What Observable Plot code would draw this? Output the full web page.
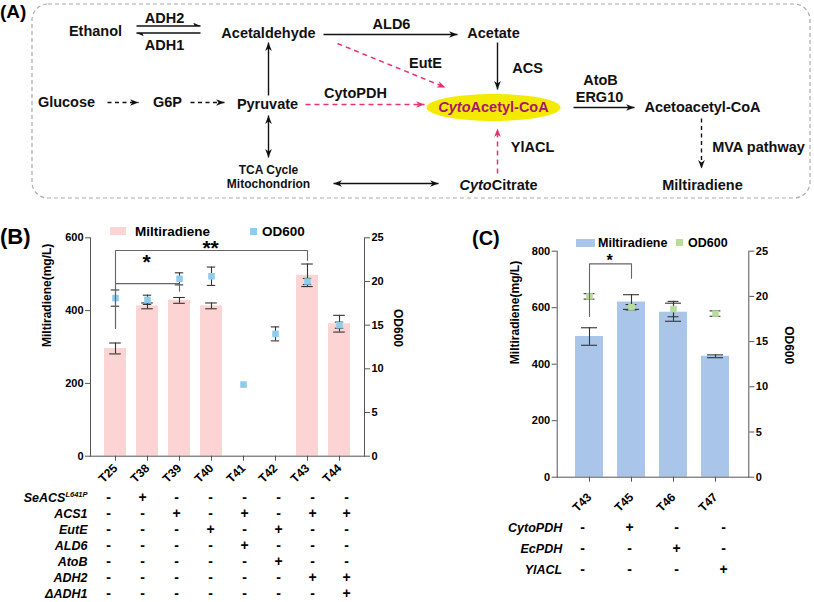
<!DOCTYPE html>
<html><head><meta charset="utf-8">
<script src="https://cdn.jsdelivr.net/npm/d3@7"></script>
<script src="https://cdn.jsdelivr.net/npm/@observablehq/plot@0.6"></script>
<style>
body{margin:0;background:#fff;}
#root{position:relative;width:814px;height:602px;overflow:hidden;font-family:"Liberation Sans",Arial,Helvetica,sans-serif;font-weight:bold;color:#000;}
.lbl{position:absolute;white-space:nowrap;line-height:1;}
.sw{position:absolute;}
</style></head><body><div id="root"></div>
<script>
// ---------------- DATA ----------------
// Panel B
const strainsB = ["T25","T38","T39","T40","T41","T42","T43","T44"];
const miltiB    = [296, 413, 428, 413, 0, 0, 497, 364];
const miltiErrB = [15, 8, 8, 8, 0, 0, 31, 23];
const odB       = [18.1, 17.9, 20.3, 20.6, 8.2, 14.0, 20.0, 15.0];
const odErrB    = [0.93, 0.53, 0.69, 1.05, 0, 0.8, 0.35, 0.35];
const rowsB  = ["SeACS^L641P","ACS1","EutE","ALD6","AtoB","ADH2","ΔADH1"];
const signsB = ["-+------","--+-+-++","---+-+--","----+---","-----+--","------++","-------+"];
const sigB = [
  {a:"T25", b:"T43", top:565, legA:351, legB:538, label:"**", labelY:570},
  {a:"T25", b:"T39", top:474, legA:351, legB:453, label:"*",  labelY:534}
];
// Panel C
const strainsC = ["T43","T45","T46","T47"];
const miltiC    = [498, 620, 584, 428];
const miltiErrC = [31, 26, 32, 5];
const odC       = [20.0, 18.8, 18.6, 18.1];
const odErrC    = [0.3, 0.3, 0.85, 0.3];
const rowsC  = ["CytoPDH","EcPDH","YlACL"];
const signsC = ["-+--","--+-","---+"];
const sigC = [{a:"T43", b:"T45", top:755, legA:569, legB:704, label:"*", labelY:764}];
const odTicks = [0,5,10,15,20,25];
// Panel A (pathway diagram)
const nodesA = [
  {label:"Ethanol", x:95, y:31},
  {label:"Acetaldehyde", x:268, y:33},
  {label:"Acetate", x:493, y:33},
  {label:"Glucose", x:66, y:102},
  {label:"G6P", x:167, y:102},
  {label:"Pyruvate", x:267, y:104},
  {label:"Acetoacetyl-CoA", x:702, y:107},
  {label:"_Cyto_Citrate", x:498, y:185},
  {label:"Miltiradiene", x:702, y:185}
];
const smallNodesA = [
  {label:"TCA Cycle", x:268, y:170},
  {label:"Mitochondrion", x:268, y:184}
];
const enzymesA = [
  {label:"ADH2", x:164, y:18}, {label:"ADH1", x:164, y:45},
  {label:"ALD6", x:391, y:24}, {label:"EutE", x:425, y:63},
  {label:"ACS", x:527, y:68}, {label:"CytoPDH", x:355, y:93},
  {label:"AtoB", x:600, y:80}, {label:"ERG10", x:599, y:97},
  {label:"YlACL", x:532, y:147}, {label:"MVA pathway", x:758, y:147}
];
const hubA = {label:"_Cyto_Acetyl-CoA", x:493, y:107, rx:67, ry:13.5};
const arrowsA = [
  {x1:136,y1:25.5,x2:200,y2:25.5, kind:"harpoon"},
  {x1:200,y1:32.5,x2:136,y2:32.5, kind:"harpoon"},
  {x1:323,y1:34,x2:457,y2:34, kind:"solid"},
  {x1:497,y1:42,x2:497,y2:89, kind:"solid"},
  {x1:573,y1:107,x2:634,y2:107, kind:"solid"},
  {x1:268,y1:95,x2:268,y2:42, kind:"solid"},
  {x1:268,y1:115,x2:268,y2:157, kind:"double"},
  {x1:333,y1:183,x2:438,y2:183, kind:"double"},
  {x1:107,y1:102,x2:138,y2:102, kind:"dashed"},
  {x1:190,y1:102,x2:224,y2:102, kind:"dashed"},
  {x1:701,y1:118,x2:701,y2:168, kind:"dashed"},
  {x1:305,y1:104,x2:424,y2:104, kind:"pink"},
  {x1:337,y1:43,x2:445,y2:87, kind:"pink"},
  {x1:497,y1:173,x2:497,y2:128, kind:"pink"}
];
const boxA = [{x1:32, x2:810, y1:4, y2:198}];

// ---------------- HELPERS ----------------
const FONT = '"Liberation Sans", Arial, Helvetica, sans-serif';
const root = document.getElementById("root");
const baseStyle = {fontFamily: FONT, fontWeight: "bold", background: "transparent", overflow: "visible", color: "#000"};
function richText(svg){
  d3.select(svg).selectAll("text").each(function(){
    const t = this.textContent;
    if (this.querySelector("tspan")) return;
    const sel = d3.select(this);
    if (t.includes("_")) {
      const parts = t.split("_"); sel.text(null);
      parts.forEach((p,i)=>{ if (p) sel.append("tspan").attr("font-style", i%2 ? "italic" : null).text(p); });
    } else if (t.includes("^")) {
      const [b, s] = t.split("^"); sel.text(null);
      sel.append("tspan").text(b);
      sel.append("tspan").attr("font-size","0.6em").attr("dy","-0.55em").text(s);
    }
  });
}
function place(el, left, top){
  el.style.position = "absolute"; el.style.left = left+"px"; el.style.top = top+"px";
  root.appendChild(el); richText(el); return el;
}
function html(text, left, top, size, extra){
  const d = document.createElement("div"); d.className = "lbl";
  d.textContent = text; d.style.left = left+"px"; d.style.top = top+"px"; d.style.fontSize = size+"px";
  if (extra) Object.assign(d.style, extra);
  root.appendChild(d); return d;
}
function swatch(left, top, w, h, color){
  const d = document.createElement("div"); d.className = "sw";
  Object.assign(d.style, {left:left+"px", top:top+"px", width:w+"px", height:h+"px", background:color});
  root.appendChild(d);
}
const headSym = {draw(ctx, size){ const r = Math.sqrt(size/Math.PI); const L = 2*r, W = 0.8*r;
  ctx.moveTo(0,0); ctx.lineTo(W,L); ctx.lineTo(0,0.72*L); ctx.lineTo(-W,L); ctx.closePath(); }};
const harpSym = {draw(ctx, size){ const r = Math.sqrt(size/Math.PI); const L = 2*r, W = 0.9*r;
  ctx.moveTo(0,0); ctx.lineTo(-W,L); ctx.lineTo(0,0.8*L); ctx.closePath(); }};

// ---------------- PANEL A ----------------
const heads = [];
arrowsA.forEach(a => {
  const ang = Math.atan2(a.y2-a.y1, a.x2-a.x1)*180/Math.PI;
  heads.push({x:a.x2, y:a.y2, rot:ang+90, kind:a.kind});
  if (a.kind === "double") heads.push({x:a.x1, y:a.y1, rot:ang-90, kind:a.kind});
});
const PINK = "#e8306f";
const ell = d3.range(0, 360, 3).map(t => ({x: hubA.x + hubA.rx*Math.cos(t*Math.PI/180), y: hubA.y + hubA.ry*Math.sin(t*Math.PI/180)}));
const plotA = Plot.plot({
  width: 814, height: 200, margin: 0,
  x: {domain:[0,814], range:[0,814], axis:null},
  y: {domain:[0,200], range:[0,200], axis:null},
  style: baseStyle,
  marks: [
    Plot.rect(boxA, {x1:"x1", x2:"x2", y1:"y1", y2:"y2", rx:16, fill:"none", stroke:"#aaa", strokeWidth:1.2, strokeDasharray:"4,3"}),
    Plot.line(ell, {x:"x", y:"y", curve:"linear-closed", fill:"#f4ea00", stroke:"none"}),
    Plot.link(arrowsA.filter(a=>a.kind!=="pink" && a.kind!=="dashed"), {x1:"x1", y1:"y1", x2:"x2", y2:"y2", stroke:"#111", strokeWidth:1.4}),
    Plot.link(arrowsA.filter(a=>a.kind==="dashed"), {x1:"x1", y1:"y1", x2:"x2", y2:"y2", stroke:"#111", strokeWidth:1.4, strokeDasharray:"4,3.5"}),
    Plot.link(arrowsA.filter(a=>a.kind==="pink"), {x1:"x1", y1:"y1", x2:"x2", y2:"y2", stroke:PINK, strokeWidth:1.5, strokeDasharray:"5,4"}),
    Plot.dot(heads.filter(h=>h.kind!=="pink" && h.kind!=="harpoon"), {x:"x", y:"y", rotate:"rot", symbol:headSym, r:4.2, fill:"#111", stroke:"none"}),
    Plot.dot(heads.filter(h=>h.kind==="harpoon"), {x:"x", y:"y", rotate:"rot", symbol:harpSym, r:3.6, fill:"#111", stroke:"none"}),
    Plot.dot(heads.filter(h=>h.kind==="pink"), {x:"x", y:"y", rotate:"rot", symbol:headSym, r:4.2, fill:PINK, stroke:"none"}),
    Plot.text(nodesA, {x:"x", y:"y", text:"label", fontSize:14.5, fill:"#111"}),
    Plot.text(smallNodesA, {x:"x", y:"y", text:"label", fontSize:12, fill:"#111"}),
    Plot.text(enzymesA, {x:"x", y:"y", text:"label", fontSize:14.5, fill:"#111"}),
    Plot.text([hubA], {x:"x", y:"y", text:"label", fontSize:14.5, fill:"#a8186f"})
  ]
});
place(plotA, 0, 0);
html("(A)", 0, 2, 19);

// ---------------- BAR + OD PANELS ----------------
function barPanel(o){
  const rec = o.strains.map((s,i)=>({s, m:o.milti[i], me:o.mErr[i], od:o.od[i], oe:o.odErr[i]}));
  const k = o.yMax/25;
  const bracketPts = o.sig.flatMap((g,j)=>[
    {s:g.a, v:g.legA, j}, {s:g.a, v:g.top, j}, {s:g.b, v:g.top, j}, {s:g.b, v:g.legB, j}]);
  const me = rec.filter(d=>d.me>0), oe = rec.filter(d=>d.oe>0);
  const err = "#333";
  return Plot.plot({
    width:o.width, height:o.height, marginLeft:o.mL, marginRight:o.mR, marginTop:o.mT, marginBottom:o.mB,
    style: baseStyle,
    x: {domain:o.strains, paddingInner:o.pi, paddingOuter:o.po, align:0.5},
    y: {domain:[0,o.yMax]},
    marks: [
      Plot.barY(rec, {x:"s", y:"m", fill:o.barColor}),
      Plot.ruleX(me, {x:"s", y1:d=>d.m-d.me, y2:d=>d.m+d.me, stroke:err, strokeWidth:1.1}),
      Plot.tickY(me, {x:"s", y:d=>d.m-d.me, insetLeft:o.capB, insetRight:o.capB, stroke:err, strokeWidth:1.1}),
      Plot.tickY(me, {x:"s", y:d=>d.m+d.me, insetLeft:o.capB, insetRight:o.capB, stroke:err, strokeWidth:1.1}),
      Plot.ruleX(oe, {x:"s", y1:d=>(d.od-d.oe)*k, y2:d=>(d.od+d.oe)*k, stroke:err, strokeWidth:1.1}),
      Plot.tickY(oe, {x:"s", y:d=>(d.od-d.oe)*k, insetLeft:o.capO, insetRight:o.capO, stroke:err, strokeWidth:1.1}),
      Plot.tickY(oe, {x:"s", y:d=>(d.od+d.oe)*k, insetLeft:o.capO, insetRight:o.capO, stroke:err, strokeWidth:1.1}),
      Plot.dot(rec, {x:"s", y:d=>d.od*k, symbol:"square", r:3.7, fill:o.dotColor, stroke:"none"}),
      Plot.line(bracketPts, {x:"s", y:"v", z:"j", stroke:"#666", strokeWidth:1.1}),
      Plot.text(o.sig, {x:"a", y:"labelY", text:"label", fontSize:o.starSize, fill:"#000"}),
      Plot.frame({anchor:"left", stroke:"#555"}),
      Plot.frame({anchor:"right", stroke:"#555"}),
      Plot.frame({anchor:"bottom", stroke:"#555"}),
      Plot.axisY({ticks:o.yTicks, anchor:"left", tickSize:5, tickPadding:2, fontSize:11, label:null, stroke:"#555", fill:"#000"}),
      Plot.axisY(odTicks, {anchor:"right", y:d=>d*k, text:d=>String(d), tickSize:5, tickPadding:2, fontSize:11, label:null, stroke:"#555", fill:"#000"}),
      Plot.axisX({tickRotate:-45, tickSize:5, tickPadding:o.xPad, fontSize:12, label:null, stroke:"#555", fill:"#000"}),
      Plot.text(["Miltiradiene(mg/L)"], {frameAnchor:"left", dx:o.lx, rotate:-90, fontSize:12, fill:"#000"}),
      Plot.text(["OD600"], {frameAnchor:"right", dx:o.rx, rotate:90, fontSize:12, fill:"#000"})
    ]
  });
}
function centerStars(svg, o){
  const sc = svg.scale("x");
  const box = svg.getBoundingClientRect();
  d3.select(svg).selectAll("text").filter(function(){ return /^\*+$/.test(this.textContent); }).each(function(){
    const g = o.sig.find(s => s.label === this.textContent);
    const want = (sc.apply(g.a) + sc.apply(g.b))/2 + sc.bandwidth/2;
    const r = this.getBoundingClientRect();
    const cur = r.left + r.width/2 - box.left;
    const prev = this.getAttribute("transform") || "";
    this.setAttribute("transform", `translate(${want-cur},0) ${prev}`);
  });
}

const cfgB = {strains:strainsB, milti:miltiB, mErr:miltiErrB, od:odB, odErr:odErrB, sig:sigB, yMax:600, yTicks:[0,200,400,600],
  width:420, height:285, mL:90, mR:56, mT:37.3, mB:29.3, pi:0.31, po:0.315, barColor:"#fcd4d4", dotColor:"#8dcdeb",
  capB:5.2, capO:6.8, starSize:21, xPad:5, lx:-43, rx:33};
const cfgC = {strains:strainsC, milti:miltiC, mErr:miltiErrC, od:odC, odErr:odErrC, sig:sigC, yMax:800, yTicks:[0,200,400,600,800],
  width:354, height:320, mL:96.7, mR:65.7, mT:50.7, mB:43.3, pi:0.327, po:0.408, barColor:"#a9c5e9", dotColor:"#b6dd9c",
  capB:6, capO:8.6, starSize:16, xPad:13, lx:-41.7, rx:39.7};

const svgB = place(barPanel(cfgB), 0, 200); centerStars(svgB, cfgB);
const svgC = place(barPanel(cfgC), 460, 200); centerStars(svgC, cfgC);

// ---------------- TABLES ----------------
function table(o, rows, signs, h, mT, mB, dxRow, fontRow, fontSign){
  const cells = rows.flatMap((r,i)=>o.strains.map((s,j)=>({r, s, v:signs[i][j]})));
  return Plot.plot({
    width:o.width, height:h, marginLeft:o.mL, marginRight:o.mR, marginTop:mT, marginBottom:mB,
    style: baseStyle,
    x: {domain:o.strains, paddingInner:o.pi, paddingOuter:o.po, align:0.5, axis:null},
    y: {domain:rows, type:"point", padding:0, axis:null},
    marks: [
      Plot.text(rows, {y:d=>d, frameAnchor:"left", textAnchor:"end", dx:dxRow, fontStyle:"italic", fontSize:fontRow, fill:"#000"}),
      Plot.text(cells, {x:"s", y:"r", text:"v", fontSize:fontSign, fill:"#000"})
    ]
  });
}
place(table(cfgB, rowsB, signsB, 117, 10, 6.3, -3, 12.5, 14), 0, 485);
place(table(cfgC, rowsC, signsC, 80, 26.7, 10.7, 5, 12.5, 14), 460, 500);

// ---------------- LEGENDS & PANEL LABELS ----------------
html("(B)", 0, 226, 22);
html("(C)", 472, 228, 20);
swatch(110, 227, 16, 8, "#fcd4d4");
html("Miltiradiene", 135, 224.5, 13.5);
swatch(250, 228, 7, 7, "#8dcdeb");
html("OD600", 262, 224.5, 13.5);
swatch(576, 239, 19, 8, "#a9c5e9");
html("Miltiradiene", 598, 237, 12.5);
swatch(676, 239, 7, 7, "#b6dd9c");
html("OD600", 688, 237, 12.5);
</script></body></html>
